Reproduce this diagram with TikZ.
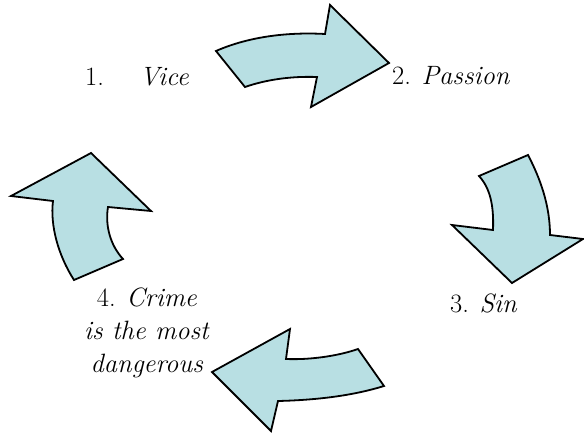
\documentclass[tikz,border=0pt]{standalone}
\definecolor{arrowfill}{RGB}{184,223,227}
\begin{document}
\begin{tikzpicture}[x=1pt,y=-1pt,
  bigarrow/.style={draw=black,line width=1.8pt,fill=arrowfill,line join=miter},
  lbl/.style={inner sep=0pt,font=\rmfamily\fontsize{26.5}{33}\selectfont}]
\useasboundingbox (0,0) rectangle (584,434);
% top arrow (1 -> 2)
\path[bigarrow] (216,51) .. controls (250,36) and (290,32) .. (325,34)
  -- (330,5) -- (389,63) -- (311,107) -- (317,77)
  .. controls (290,76) and (265,80) .. (245,87) -- cycle;
% right arrow (2 -> 3)
\path[bigarrow] (479,176) -- (528,155)
  .. controls (540,178) and (550,205) .. (550,235)
  -- (583,239) -- (512,283) -- (452,225) -- (493,230)
  .. controls (494,205) and (490,188) .. (479,176) -- cycle;
% bottom arrow (3 -> 4)
\path[bigarrow] (290,329) -- (286,359)
  .. controls (310,360) and (338,356) .. (358,349)
  -- (384,386)
  .. controls (355,395) and (320,400) .. (278,401)
  -- (271,431) -- (212,372) -- cycle;
% left arrow (4 -> 1)
\path[bigarrow] (91,153) -- (151,211) -- (108,207)
  .. controls (105,225) and (110,245) .. (123,259)
  -- (74,280)
  .. controls (58,255) and (50,225) .. (53,201)
  -- (11,196) -- cycle;
% labels
\node[lbl,anchor=base west] (t1) at (85,85) {1.\hspace{36pt}\textit{Vice}};
\node[lbl,anchor=base west] (t2) at (392,84) {2. \textit{Passion}};
\node[lbl,anchor=base west] (t3) at (450,312) {3. \textit{Sin}};
\node[lbl,anchor=north,align=center] (t4) at (147,288) {4. \textit{Crime}\\\textit{is the most}\\\textit{dangerous}};
\end{tikzpicture}
\end{document}
